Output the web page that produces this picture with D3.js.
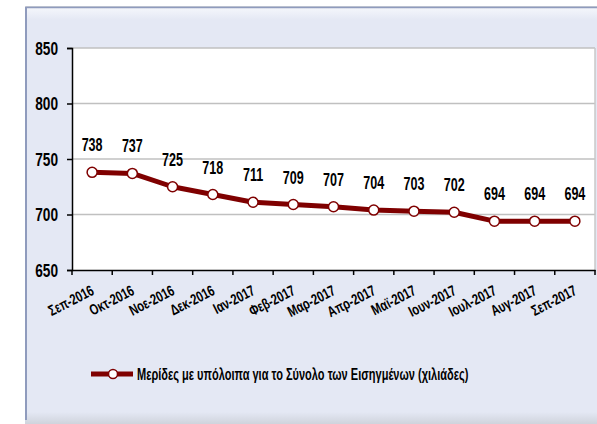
<!DOCTYPE html>
<html>
<head>
<meta charset="utf-8">
<script src="https://cdn.jsdelivr.net/npm/d3@7"></script>
<style>
  html, body { margin: 0; padding: 0; background: #ffffff; }
  svg { display: block; }
  text { font-family: "Liberation Sans", Arial, sans-serif; font-weight: bold; fill: #000; }
</style>
</head>
<body>
<script>
const categories = ["Σεπ-2016","Οκτ-2016","Νοε-2016","Δεκ-2016","Ιαν-2017","Φεβ-2017","Μαρ-2017","Απρ-2017","Μαϊ-2017","Ιουν-2017","Ιουλ-2017","Αυγ-2017","Σεπ-2017"];
const values = [738,737,725,718,711,709,707,704,703,702,694,694,694];
const yTicks = [650,700,750,800,850];
const seriesName = "Μερίδες με υπόλοιπα για το Σύνολο των Εισηγμένων (χιλιάδες)";

const W = 597, H = 424;
const svg = d3.select("body").append("svg").attr("width", W).attr("height", H);

function squeeze(sel, f) {
  sel.each(function() {
    const w = this.getComputedTextLength();
    d3.select(this).attr("textLength", w * f).attr("lengthAdjust", "spacingAndGlyphs");
  });
}

// panel background
const defs = svg.append("defs");
const g1 = defs.append("linearGradient").attr("id","topg").attr("x1",0).attr("y1",0).attr("x2",0).attr("y2",1);
g1.append("stop").attr("offset","0").attr("stop-color","#f4f6fb");
g1.append("stop").attr("offset","1").attr("stop-color","#e4e8f4");
const g2 = defs.append("linearGradient").attr("id","botg").attr("x1",0).attr("y1",0).attr("x2",0).attr("y2",1);
g2.append("stop").attr("offset","0").attr("stop-color","#e4e8f4");
g2.append("stop").attr("offset","1").attr("stop-color","#cfd3dc");

svg.append("rect").attr("x",25).attr("y",6).attr("width",W-25).attr("height",414).attr("fill","#e4e8f4");
svg.append("rect").attr("x",27).attr("y",8).attr("width",W-27).attr("height",12).attr("fill","url(#topg)");
svg.append("rect").attr("x",25).attr("y",412).attr("width",W-25).attr("height",12).attr("fill","url(#botg)");
svg.append("line").attr("x1",25).attr("x2",W).attr("y1",6.5).attr("y2",6.5).attr("stroke","#c9ccd6").attr("stroke-width",1);
svg.append("line").attr("x1",26).attr("x2",W).attr("y1",7.5).attr("y2",7.5).attr("stroke","#8f9bbd").attr("stroke-width",1.5);
svg.append("line").attr("x1",26).attr("x2",26).attr("y1",7).attr("y2",420).attr("stroke","#8f9bbd").attr("stroke-width",2);

// plot area
const pLeft = 72, pRight = 595, pTop = 48, pBottom = 270;
svg.append("rect").attr("x",pLeft).attr("y",pTop).attr("width",pRight-pLeft).attr("height",pBottom-pTop).attr("fill","#ffffff");

const x = d3.scaleBand().domain(categories).range([pLeft, pRight]).padding(0);
const y = d3.scaleLinear().domain([650, 850]).range([pBottom, pTop]);

// gridlines
svg.append("g").selectAll("line").data(yTicks.filter(d => d > 650)).join("line")
  .attr("x1", pLeft).attr("x2", pRight)
  .attr("y1", d => y(d)).attr("y2", d => y(d))
  .attr("stroke", "#c0c0c0").attr("stroke-width", 1.5);
svg.append("line").attr("x1",pRight).attr("x2",pRight).attr("y1",pTop).attr("y2",pBottom).attr("stroke","#c8c8c8").attr("stroke-width",1.5);

// y axis
const yAxis = svg.append("g").attr("transform", `translate(${pLeft},0)`)
  .call(d3.axisLeft(y).tickValues(yTicks).tickSize(5).tickPadding(9).tickFormat(d3.format("d")));
yAxis.select(".domain").attr("stroke","#000").attr("stroke-width",1.5);
yAxis.selectAll(".tick line").attr("stroke","#000").attr("stroke-width",1.5);
yAxis.selectAll("text").attr("font-size", 18).attr("font-family", null).attr("dy","0.36em");
squeeze(yAxis.selectAll("text"), 0.76);

// x axis
const xAxis = svg.append("g").attr("transform", `translate(0,${pBottom})`)
  .call(d3.axisBottom(x).tickSize(0).tickFormat(""));
xAxis.select(".domain").attr("stroke","#000").attr("stroke-width",1.5);
const edges = categories.map(c => x(c)).concat([pRight]);
svg.append("g").selectAll("line").data(edges).join("line")
  .attr("x1", d => d).attr("x2", d => d).attr("y1", pBottom).attr("y2", pBottom + 5)
  .attr("stroke","#000").attr("stroke-width",1.5);

const xl = svg.append("g").selectAll("text").data(categories).join("text")
  .attr("transform", d => `translate(${x(d) + x.bandwidth()/2 + 3},${pBottom + 24}) rotate(-27)`)
  .attr("text-anchor","end")
  .attr("font-size", 15)
  .text(d => d);
squeeze(xl, 0.74);

// line
const cx = d => x(d) + x.bandwidth()/2;
const line = d3.line().x((d,i) => cx(categories[i])).y(d => y(d));
svg.append("path").datum(values).attr("d", line)
  .attr("fill","none").attr("stroke","#7f0000").attr("stroke-width",5).attr("stroke-linejoin","round");
svg.append("g").selectAll("circle").data(values).join("circle")
  .attr("cx", (d,i) => cx(categories[i])).attr("cy", d => y(d)).attr("r", 5)
  .attr("fill","#ffffff").attr("stroke","#7f0000").attr("stroke-width",1.5);

// data labels
const dl = svg.append("g").selectAll("text").data(values).join("text")
  .attr("x", (d,i) => cx(categories[i])).attr("y", d => y(d) - 21)
  .attr("text-anchor","middle").attr("font-size", 19)
  .text(d => d);
squeeze(dl, 0.66);

// legend
const ly = 374;
svg.append("line").attr("x1",91).attr("x2",133).attr("y1",ly).attr("y2",ly).attr("stroke","#7f0000").attr("stroke-width",5);
svg.append("circle").attr("cx",113).attr("cy",ly).attr("r",4.5).attr("fill","#fff").attr("stroke","#7f0000").attr("stroke-width",1.5);
svg.append("g").attr("transform", `translate(137,${ly + 6}) scale(0.69,1)`)
  .append("text").attr("x",0).attr("y",0).attr("font-size",16).text(seriesName);
</script>
</body>
</html>
